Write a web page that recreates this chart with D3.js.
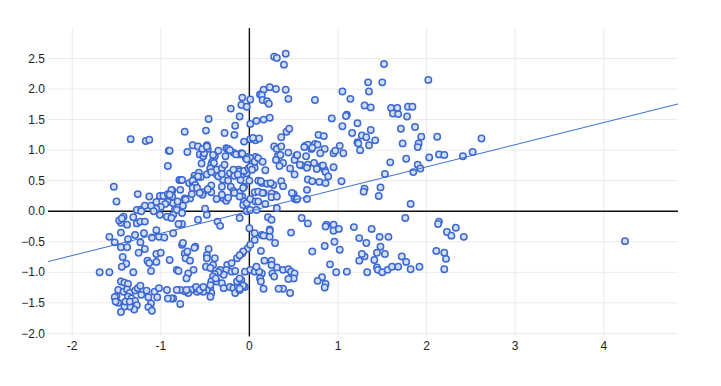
<!DOCTYPE html>
<html>
<head>
<meta charset="utf-8">
<script src="https://cdn.jsdelivr.net/npm/d3@7"></script>
<style>
  body { margin: 0; background: #fff; }
  text { font-family: Arial, "Liberation Sans", sans-serif; font-size: 12px; fill: #222; }
</style>
</head>
<body>
<svg width="721" height="386"></svg>
<script>
// points, grouped by quadrant
const upperLeft = [
  [-1.34,1.18],[-1.17,1.15],[-1.13,1.17],[-1.53,0.40],[-1.50,0.16],[-1.26,0.28],[-1.13,0.24],[-1.01,0.25],[-0.97,0.25],
  [-0.92,0.28],[-0.87,0.34],[-0.87,0.24],[-0.92,0.15],[-0.95,0.12],[-1.00,0.07],[-1.05,0.04],[-0.86,0.13],[-0.79,0.51],
  [-0.81,0.16],[-0.84,0.03],[-1.27,0.02],[-1.22,0.03],[-1.18,0.09],[-1.11,0.09],[-1.05,0.15],[-0.92,0.74],[-0.91,0.99],
  [-0.73,1.30],[-0.70,0.97],[-0.64,1.08],[-0.58,1.06],[-0.49,1.32],[-0.46,1.51],[-0.48,1.08],[-0.47,1.02],[-0.77,0.51],
  [-0.68,0.46],[-0.64,0.48],[-0.62,0.58],[-0.62,0.53],[-0.57,0.63],[-0.55,0.56],[-0.54,0.78],[-0.56,0.93],[-0.52,0.90],
  [-0.51,0.95],[-0.42,0.81],[-0.43,0.76],[-0.41,0.73],[-0.44,0.69],[-0.39,0.90],[-0.40,0.79],[-0.35,0.99],[-0.28,1.28],
  [-0.21,1.68],[-0.11,1.55],[-0.16,1.40],[-0.17,1.25],[-0.26,1.03],[-0.24,1.02],[-0.18,0.96],[-0.11,0.93],[-0.15,0.93],
  [-0.08,1.86],[-0.09,1.74],[-0.03,1.71],[-0.06,1.14],[-0.04,0.87],[-0.37,0.60],[-0.32,0.67],[-0.30,0.52],[-0.22,0.62],
  [-0.17,0.58],[-0.12,0.68],[-0.08,0.60],[-0.10,0.51],[-0.03,0.62],[-0.06,0.40],[-0.90,0.99],[-0.53,1.02],[-0.48,1.06],
  [-0.41,0.92],[-0.22,1.00],[-0.09,0.95],[-0.02,0.89],[-0.27,0.90],[-0.44,0.70],[-0.37,0.68],[-0.31,0.70],[-0.28,0.76],
  [-0.18,0.68],[-0.11,0.65],[-0.06,0.66],[-0.01,0.70],[-0.58,0.57],[-0.48,0.60],[-0.43,0.64],[-0.35,0.57],[-0.31,0.61],
  [-0.24,0.50],[-0.13,0.60],[-0.76,0.51],[-0.64,0.50],[-0.61,0.43],[-0.64,0.38],[-0.59,0.38],[-0.52,0.31],[-0.53,0.27],
  [-0.43,0.42],[-0.43,0.31],[-0.31,0.40],[-0.21,0.40],[-0.18,0.33],[-0.11,0.31],[-0.07,0.38],[-0.88,0.35],[-0.90,0.27],
  [-0.78,0.35],[-0.73,0.21],[-0.67,0.21],[-0.75,0.09],[-0.65,0.28],[-0.37,0.20],[-0.29,0.21],[-0.26,0.17],[-0.24,0.22],
  [-0.08,0.24],[-0.06,0.16],[-0.50,0.04],[-0.82,0.02],[-0.11,0.24],[-0.07,0.10],[-0.72,0.19],[-0.56,0.30],[-0.47,0.36],
  [-0.31,0.27],[-0.17,0.30],[-0.03,0.13]
];
const lowerLeft = [
  [-0.76,-0.03],[-0.86,-0.06],[-0.48,-0.06],[-0.76,-0.21],[-0.58,-0.14],[-0.36,-0.17],[-0.33,-0.24],[-0.11,-0.11],
  [-0.03,0.0],[-0.86,-0.36],[-1.42,-0.09],[-1.31,-0.10],[-1.22,0.0],[-1.08,0.0],[-1.01,-0.06],[-0.93,-0.09],[-0.88,-0.11],
  [-0.80,-0.21],[-1.45,-0.19],[-1.38,-0.22],[-1.27,-0.20],[-1.23,-0.17],[-1.18,-0.17],[-1.47,-0.15],[-1.44,-0.12],
  [-1.58,-0.42],[-1.52,-0.51],[-1.45,-0.59],[-1.38,-0.59],[-1.37,-0.46],[-1.45,-0.35],[-1.29,-0.39],[-1.23,-0.51],
  [-1.19,-0.36],[-1.25,-0.68],[-1.18,-0.62],[-1.05,-0.31],[-1.10,-0.43],[-1.02,-0.42],[-0.96,-0.43],[-1.05,-0.70],
  [-1.00,-0.68],[-1.43,-0.75],[-1.39,-0.86],[-1.44,-0.91],[-1.15,-0.81],[-1.13,-0.85],[-1.05,-0.83],[-1.11,-0.98],
  [-0.90,-0.80],[-1.69,-1.0],[-1.58,-1.0],[-1.31,-1.0],[-0.82,-0.96],[-0.76,-0.55],[-0.72,-0.70],[-0.61,-0.58],
  [-0.75,-0.52],[-0.73,-0.69],[-0.70,-0.66],[-0.72,-0.77],[-0.67,-0.81],[-0.69,-1.02],[-0.71,-1.10],[-0.63,-0.96],
  [-0.62,-0.60],[-0.80,-0.98],[-0.46,-0.62],[-0.48,-0.72],[-0.48,-0.77],[-0.39,-0.77],[-0.49,-0.91],[-0.41,-0.88],
  [-0.44,-0.93],[-0.25,-0.88],[-0.20,-0.85],[-0.14,-0.77],[-0.08,-0.69],[-0.02,-0.61],[-0.26,-0.96],[-0.20,-0.99],
  [-0.16,-0.98],[-0.29,-1.04],[-0.33,-0.96],[-0.35,-1.00],[-0.39,-1.03],[-0.41,-1.07],[-0.43,-1.15],[-0.37,-1.15],
  [-0.31,-1.18],[-0.29,-1.26],[-0.22,-1.24],[-0.18,-1.26],[-0.13,-1.24],[-0.10,-1.21],[-0.14,-1.15],[-0.09,-1.13],
  [-0.05,-0.99],[-0.44,-1.26],[-0.43,-1.34],[-0.48,-1.29],[-0.52,-1.32],[-0.59,-1.32],[-0.61,-1.26],[-0.66,-1.29],
  [-0.69,-1.34],[-0.73,-1.31],[-0.78,-1.29],[-0.82,-1.29],[-0.86,-1.43],[-0.78,-1.52],[-0.60,-1.24],[-0.16,-1.34],
  [-0.11,-1.29],[-0.05,-1.24],[-1.45,-1.15],[-1.41,-1.17],[-1.37,-1.19],[-1.48,-1.29],[-1.50,-1.39],[-1.42,-1.32],
  [-1.38,-1.28],[-1.35,-1.34],[-1.29,-1.30],[-1.26,-1.26],[-1.23,-1.22],[-1.37,-1.40],[-1.33,-1.43],[-1.29,-1.47],
  [-1.27,-1.54],[-1.30,-1.61],[-1.35,-1.56],[-1.41,-1.56],[-1.45,-1.65],[-1.48,-1.50],[-1.52,-1.41],[-1.51,-1.48],
  [-1.22,-1.37],[-1.16,-1.30],[-1.14,-1.41],[-1.07,-1.32],[-1.04,-1.41],[-1.02,-1.26],[-1.11,-1.51],[-1.14,-1.57],
  [-1.10,-1.63],[-0.88,-1.43],[-1.40,-1.48],[-1.35,-1.48],[-0.93,-1.29],[-0.92,-1.43],[-0.71,-1.29],[-0.56,-1.29],
  [-0.52,-1.24],[-0.44,-1.40],[-0.44,-1.21],[-0.38,-1.10],[-0.11,-1.10],[-0.07,-1.22],[-0.11,-1.27],[-0.07,-0.66],
  [-0.11,-0.72]
];
const upperRight = [
  [0.01,1.83],[0.12,1.91],[0.08,1.48],[0.01,1.43],[0.01,1.18],[0.07,1.16],[0.11,1.19],[0.07,0.89],[0.06,0.71],[0.00,0.50],
  [0.06,0.31],[0.10,0.32],[0.01,0.20],[0.07,0.16],[0.36,1.21],[0.42,1.30],[0.78,1.25],[0.84,1.23],[0.28,1.06],[0.31,1.02],
  [0.36,1.06],[0.44,0.96],[0.32,0.90],[0.35,0.92],[0.30,0.84],[0.38,0.79],[0.34,0.74],[0.63,1.07],[0.66,1.09],[0.74,1.10],
  [0.77,1.09],[0.70,1.02],[0.85,1.02],[0.80,0.95],[0.95,0.95],[0.53,0.91],[0.64,0.90],[0.51,0.84],[0.59,0.75],[0.66,0.76],
  [0.73,0.79],[0.79,0.73],[0.82,0.74],[0.85,0.68],[0.95,0.72],[0.46,0.70],[0.51,0.60],[0.01,0.87],[0.06,0.81],[0.10,0.87],
  [0.01,0.73],[0.03,0.68],[0.18,0.67],[0.10,0.50],[0.14,0.46],[0.20,0.45],[0.27,0.43],[0.36,0.49],[0.38,0.41],[0.29,0.27],
  [0.16,0.30],[0.25,0.29],[0.25,0.23],[0.31,0.24],[0.10,0.16],[0.18,0.12],[0.31,0.05],[0.65,0.35],[0.65,0.20],[0.50,0.28],
  [0.51,0.21],[0.53,0.19],[0.01,0.02],[0.08,0.02],[0.28,2.53],[0.31,2.51],[0.41,2.58],[0.39,2.40],[0.16,1.99],[0.23,2.03],
  [0.30,2.00],[0.41,1.99],[0.44,1.84],[0.14,1.90],[0.15,1.82],[0.20,1.80],[0.22,1.76],[0.74,1.82],[1.05,1.96],[1.14,1.84],
  [1.34,2.11],[1.35,1.96],[1.50,2.11],[1.52,2.41],[2.02,2.15],[1.30,1.73],[1.37,1.70],[0.16,1.50],[0.23,1.53],[0.93,1.52],
  [1.10,1.58],[1.09,1.56],[1.22,1.44],[1.60,1.69],[1.67,1.69],[1.62,1.60],[1.68,1.59],[1.78,1.55],[1.79,1.71],[1.84,1.71],
  [1.87,1.38],[1.71,1.35],[1.05,1.39],[1.16,1.28],[1.22,1.13],[1.23,1.11],[1.25,1.00],[1.27,1.24],[1.32,1.21],[1.37,1.33],
  [1.35,1.08],[1.42,1.16],[1.59,0.80],[1.73,1.11],[1.77,0.86],[1.91,1.11],[1.90,1.05],[1.94,1.22],[2.03,0.88],[2.12,1.22],
  [2.14,0.93],[2.20,0.92],[2.41,0.90],[2.52,0.97],[2.62,1.19],[1.90,0.76],[1.93,0.70],[1.85,0.64],[1.53,0.61],[1.06,0.95],
  [1.02,1.07],[0.97,0.99],[1.30,0.37],[1.46,0.25],[1.48,0.39],[1.04,0.49],[0.71,1.04],[0.62,1.05],[0.54,0.92],[0.45,1.35],
  [0.04,1.20],[-0.08,0.94],[-0.03,0.85],[0.15,0.81],[0.13,0.49],[0.24,0.46],[0.57,0.76],[0.65,0.71],[0.66,0.52],[0.71,0.49],
  [0.79,0.48],[0.83,0.75],[0.86,0.64],[0.89,0.57],[0.86,0.46],[0.76,0.69],[0.15,0.30],[0.48,0.30],[0.54,0.20],[1.29,0.32],
  [1.82,0.12]
];
const lowerRight = [
  [0.21,-0.10],[0.25,-0.14],[0.23,-0.30],[0.59,-0.11],[0.66,-0.20],[0.87,-0.22],[0.0,-0.28],[1.76,-0.11],[2.14,-0.17],
  [2.13,-0.21],[2.23,-0.34],[2.28,-0.40],[2.33,-0.27],[2.42,-0.42],[0.06,-0.36],[0.14,-0.39],[0.16,-0.40],[0.23,-0.32],
  [0.23,-0.42],[0.29,-0.52],[0.47,-0.35],[0.86,-0.25],[0.95,-0.22],[0.95,-0.32],[1.01,-0.29],[1.18,-0.26],[1.38,-0.29],
  [1.47,-0.42],[1.57,-0.42],[1.24,-0.44],[1.32,-0.52],[0.96,-0.50],[1.02,-0.63],[0.71,-0.66],[0.85,-0.57],[1.48,-0.58],
  [1.44,-0.68],[1.53,-0.70],[1.41,-0.80],[1.30,-0.74],[1.27,-0.70],[1.24,-0.81],[1.44,-0.92],[1.45,-0.96],[1.50,-1.00],
  [1.56,-0.96],[1.61,-0.91],[1.68,-0.91],[1.72,-0.74],[1.77,-0.83],[1.82,-0.95],[1.92,-0.91],[2.11,-0.65],[2.20,-0.68],
  [2.22,-0.78],[2.20,-0.95],[1.33,-1.00],[1.10,-0.99],[0.98,-1.00],[0.91,-0.87],[0.82,-1.08],[0.77,-1.14],[0.86,-1.19],
  [0.85,-1.25],[0.01,-0.96],[0.06,-0.99],[0.14,-1.02],[0.12,-1.10],[0.13,-1.15],[0.16,-1.27],[0.17,-0.81],[0.25,-0.81],
  [0.31,-0.92],[0.26,-1.02],[0.28,-1.07],[0.25,-0.88],[0.38,-0.96],[0.44,-0.95],[0.47,-0.99],[0.51,-1.02],[0.50,-1.10],
  [0.44,-1.11],[0.38,-1.27],[0.33,-1.27],[0.46,-1.34],[0.06,-0.47],[0.13,-0.65],[0.11,-0.99],[0.08,-0.91],[0.01,-0.55],
  [4.24,-0.49]
];
const xTicks = [-2, -1, 0, 1, 2, 3, 4];
const yTicks = [-2.0, -1.5, -1.0, -0.5, 0.0, 0.5, 1.0, 1.5, 2.0, 2.5];
const trend = { slope: 0.363, intercept: 0 };

const points = upperLeft.concat(lowerLeft, upperRight, lowerRight);

const svg = d3.select("svg");
const plotLeft = 48, plotRight = 678, plotTop = 28, plotBottom = 336.4;

const x = d3.scaleLinear().domain([-2.273, 4.838]).range([plotLeft, plotRight]);
const y = d3.scaleLinear().domain([-2.05, 3.0]).range([plotBottom, plotTop]);

// grid
svg.append("g").selectAll("line").data(xTicks).enter().append("line")
  .attr("x1", d => x(d)).attr("x2", d => x(d))
  .attr("y1", plotTop).attr("y2", plotBottom)
  .attr("stroke", "#ebebeb").attr("stroke-width", 1);
svg.append("g").selectAll("line").data(yTicks).enter().append("line")
  .attr("x1", plotLeft).attr("x2", plotRight)
  .attr("y1", d => y(d)).attr("y2", d => y(d))
  .attr("stroke", "#ebebeb").attr("stroke-width", 1);

// zero axes
svg.append("line")
  .attr("x1", plotLeft).attr("x2", plotRight).attr("y1", y(0)).attr("y2", y(0))
  .attr("stroke", "#111").attr("stroke-width", 1.4);
svg.append("line")
  .attr("x1", x(0)).attr("x2", x(0)).attr("y1", plotTop).attr("y2", plotBottom)
  .attr("stroke", "#111").attr("stroke-width", 1.4);

// tick labels
svg.append("g").selectAll("text").data(yTicks).enter().append("text")
  .attr("x", 45).attr("y", d => y(d)).attr("dy", "0.35em")
  .attr("text-anchor", "end")
  .text(d => d3.format(".1f")(d));
svg.append("g").selectAll("text").data(xTicks).enter().append("text")
  .attr("x", d => x(d)).attr("y", 350)
  .attr("text-anchor", "middle")
  .text(d => d);

// points
svg.append("g").selectAll("circle").data(points).enter().append("circle")
  .attr("cx", d => x(d[0])).attr("cy", d => y(d[1]))
  .attr("r", 3.2)
  .attr("fill", "#d3ddf4")
  .attr("stroke", "#3b68d1")
  .attr("stroke-width", 1.5);

// trendline
const xd = x.domain();
svg.append("line")
  .attr("x1", x(xd[0])).attr("y1", y(trend.intercept + trend.slope * xd[0]))
  .attr("x2", x(xd[1])).attr("y2", y(trend.intercept + trend.slope * xd[1]))
  .attr("stroke", "#3b6fd8").attr("stroke-width", 1);
</script>
</body>
</html>
